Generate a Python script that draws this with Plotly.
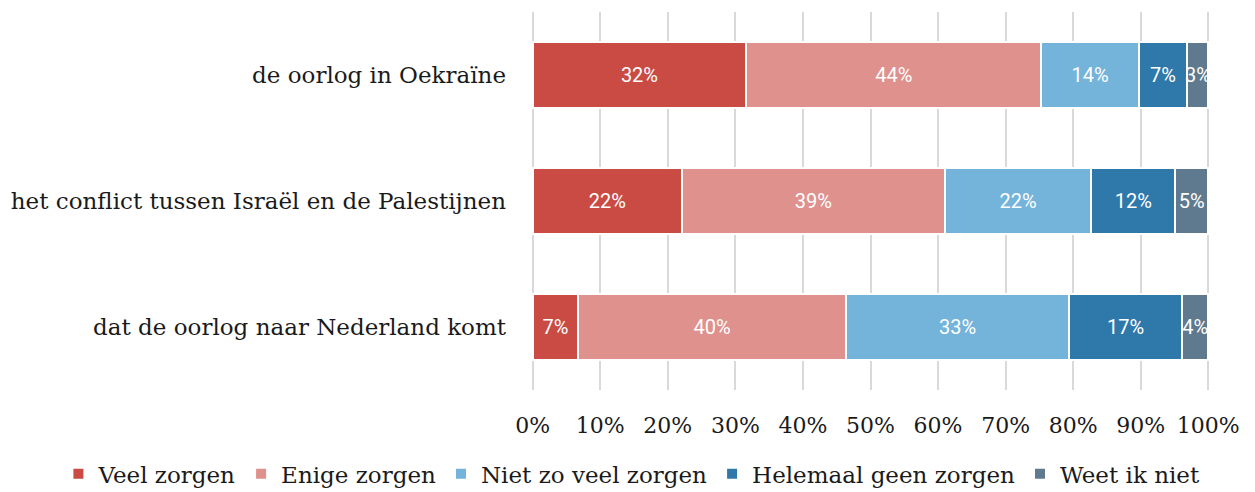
import plotly.graph_objects as go

categories = [
    "de oorlog in Oekraïne",
    "het conflict tussen Israël en de Palestijnen",
    "dat de oorlog naar Nederland komt",
]
series_names = ["Veel zorgen", "Enige zorgen", "Niet zo veel zorgen",
                "Helemaal geen zorgen", "Weet ik niet"]
veel = [31.6, 22.1, 6.7]
enige = [43.7, 38.9, 39.7]
niet_zo_veel = [14.4, 21.7, 33.0]
helemaal_geen = [7.2, 12.4, 16.7]
weet_niet = [3.1, 4.9, 3.9]
colors = ["#c94b43", "#de918d", "#74b3da", "#2e79aa", "#5f7a8e"]

tick_vals = [0, 10, 20, 30, 40, 50, 60, 70, 80, 90, 100]
tick_text = [f"{v}%" for v in tick_vals]

fig = go.Figure()
for name, vals, col in zip(series_names,
                           [veel, enige, niet_zo_veel, helemaal_geen, weet_niet],
                           colors):
    fig.add_trace(go.Bar(
        y=categories, x=vals, name=name, orientation="h",
        marker=dict(color=col, line=dict(color="white", width=2)),
        texttemplate="%{x:.0f}%", textposition="inside", textangle=0,
        insidetextanchor="middle", constraintext="none",
        textfont=dict(family="Roboto", size=20, color="white"),
    ))

fig.update_layout(
    barmode="stack",
    bargap=0.47,
    width=1247, height=484,
    margin=dict(l=523, r=45, t=4, b=102, autoexpand=False),
    plot_bgcolor="white", paper_bgcolor="white",
    showlegend=True,
    legend=dict(orientation="h", xref="paper", yref="paper",
                xanchor="left", x=-0.696, yanchor="middle", y=-0.222,
                font=dict(family="DejaVu Serif", size=23, color="#1a1a1a"),
                traceorder="normal", itemwidth=30),
    xaxis=dict(range=[-0.25, 100.25], tickvals=tick_vals, ticktext=tick_text,
               showgrid=True, gridcolor="#d9d9d9", gridwidth=2, zeroline=False,
               tickfont=dict(family="DejaVu Serif", size=22, color="#1a1a1a"),
               ticks="", ticklabelstandoff=20, showline=False, automargin=False),
    yaxis=dict(categoryorder="array", categoryarray=categories[::-1],
               tickfont=dict(family="DejaVu Serif", size=23, color="#1a1a1a"),
               ticks="", ticklabelstandoff=24, showgrid=False, zeroline=False,
               automargin=False),
)

fig.write_html("out.html")
